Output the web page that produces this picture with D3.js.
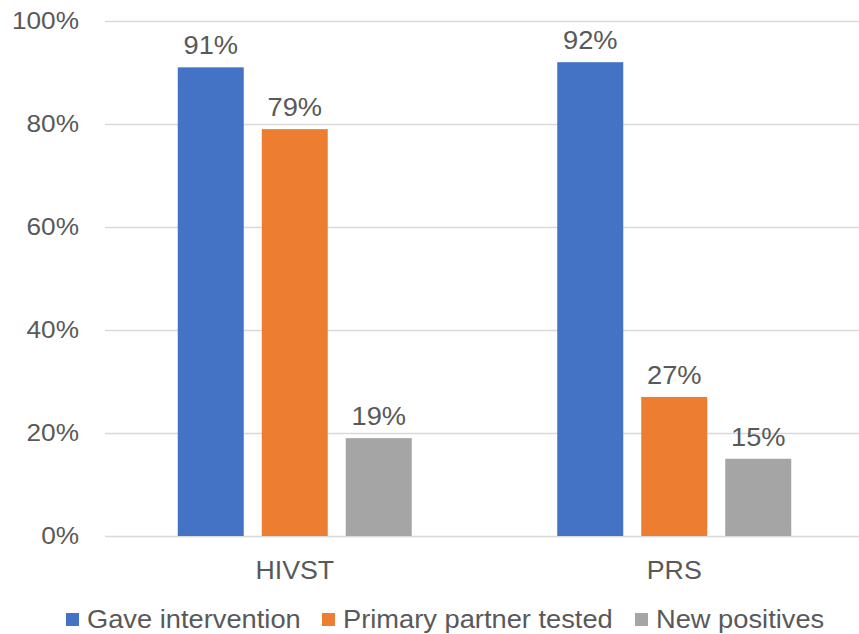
<!DOCTYPE html>
<html>
<head>
<meta charset="utf-8">
<script src="https://cdn.jsdelivr.net/npm/d3@7/dist/d3.min.js"></script>
<style>
  html, body { margin: 0; padding: 0; background: #ffffff; }
  svg { display: block; }
  text { font-family: "Liberation Sans", Arial, sans-serif; fill: #595959; }
</style>
</head>
<body>
<svg id="chart" width="859" height="634"></svg>
<script>
const categories = ["HIVST", "PRS"];
const seriesNames = ["Gave intervention", "Primary partner tested", "New positives"];
const seriesColors = ["#4472C4", "#ED7D31", "#A5A5A5"];
const gaveIntervention = [0.91, 0.92];
const partnerTested = [0.79, 0.27];
const newPositives = [0.19, 0.15];
const yTicks = [0, 0.2, 0.4, 0.6, 0.8, 1.0];

const seriesValues = [gaveIntervention, partnerTested, newPositives];
const SX = 1.07; // horizontal stretch of text as in the reference

const svg = d3.select("#chart");
const y = d3.scaleLinear().domain([0, 1]).range([536, 21]);
const x0 = d3.scaleBand().domain(categories).range([105, 864]);
const x1 = d3.scaleBand().domain(seriesNames).range([-126, 126])
  .paddingInner(18 / 84).paddingOuter(9 / 84);

function stretchedText(sel, x, yy, str, size, anchor) {
  sel.append("g")
    .attr("transform", `translate(${x},${yy}) scale(${SX},1)`)
    .append("text")
    .attr("text-anchor", anchor)
    .style("font-size", size + "px")
    .text(str);
}

// gridlines
svg.append("g").selectAll("line").data(yTicks).join("line")
  .attr("x1", 105).attr("x2", 859)
  .attr("y1", d => Math.round(y(d)) + 0.5).attr("y2", d => Math.round(y(d)) + 0.5)
  .attr("stroke", "#D9D9D9").attr("stroke-width", 1.5);

// y tick labels
const fmt = d3.format(".0%");
const yl = svg.append("g");
yTicks.forEach(t => stretchedText(yl, 79, y(t) + 8, fmt(t), 24.5, "end"));

// bars
const bars = svg.append("g");
categories.forEach((c, ci) => {
  const cx = x0(c) + x0.bandwidth() / 2;
  seriesNames.forEach((s, si) => {
    const v = seriesValues[si][ci];
    bars.append("rect")
      .attr("x", cx + x1(s))
      .attr("y", y(v))
      .attr("width", x1.bandwidth())
      .attr("height", y(0) - y(v))
      .attr("fill", seriesColors[si]);
    stretchedText(bars, cx + x1(s) + x1.bandwidth() / 2, y(v) - 13, fmt(v), 25.5, "middle");
  });
  stretchedText(svg, cx, 579, c, 25, "middle");
});

// legend
const legendX = [66, 322, 635];
const lg = svg.append("g");
seriesNames.forEach((s, i) => {
  lg.append("rect").attr("x", legendX[i]).attr("y", 613).attr("width", 13).attr("height", 13)
    .attr("fill", seriesColors[i]);
  stretchedText(lg, legendX[i] + 21, 628, s, 25.5, "start");
});
</script>
</body>
</html>
